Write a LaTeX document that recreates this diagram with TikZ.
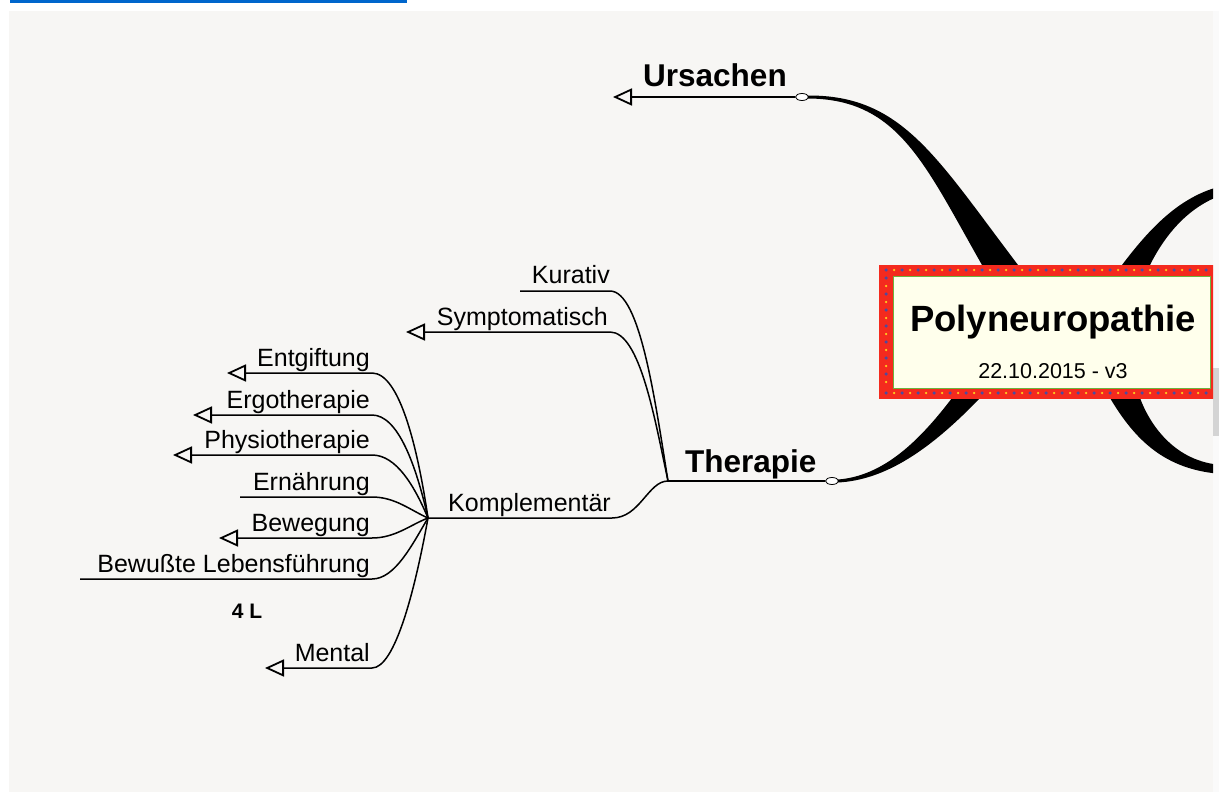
\documentclass[tikz,border=0pt]{standalone}
\usepackage{fontspec}
\setmainfont{Liberation Sans}
\usetikzlibrary{arrows.meta,shapes.geometric}
\definecolor{panelbg}{HTML}{F7F6F4}
\definecolor{barblue}{HTML}{0066CC}
\definecolor{boxred}{HTML}{F42A1E}
\definecolor{boxcream}{HTML}{FFFFEC}
\definecolor{boxgreen}{HTML}{6DB33F}
\definecolor{dotblue}{HTML}{4B4BA0}
\definecolor{dotyellow}{HTML}{FFD21E}
\definecolor{scrollgrey}{HTML}{D4D4D4}
\definecolor{stripbg}{HTML}{FAFAFA}
\begin{document}
\begin{tikzpicture}[x=1pt,y=-1pt,
  limb/.style={fill=black},
  twig/.style={line width=1.5pt},
  mainline/.style={line width=2pt},
  openarrow/.style={-{Triangle[open,length=19pt,width=17pt,line width=1.8pt]}},
  twigtxt/.style={inner sep=0pt, anchor=base east, font=\fontsize{25}{29}\selectfont},
  maintxt/.style={inner sep=0pt, anchor=base west, font=\bfseries\fontsize{31.5}{35}\selectfont},
  knot/.style={ellipse, draw, fill=white, line width=0.8pt, minimum width=13pt, minimum height=7pt, inner sep=0pt},
  bluedots/.style={dotblue, line width=3.5pt, line cap=round, dash pattern=on 0pt off 16pt},
  yellowdots/.style={dotyellow, line width=2.5pt, line cap=round, dash pattern=on 0pt off 16pt, dash phase=8pt},
]
\useasboundingbox (0,0) rectangle (1219,792);
\fill[white] (0,0) rectangle (1219,792);
\fill[barblue] (10,0) rectangle (407,3);
\fill[stripbg] (1213,11) rectangle (1219,792);
\fill[panelbg] (9,11) rectangle (1213,792);
\fill[scrollgrey] (1213,368) rectangle (1219,436);

% knots
\node[knot] (uk) at (802,97) {};
\node[knot] (tk) at (832,481) {};

\begin{scope}
\clip (9,11) rectangle (1213,792);
% thick limbs
\fill[limb] (808,95.5) .. controls (902,95) and (936,157) .. (1018,265) -- (1030,285)
  -- (994,285) -- (982,265) .. controls (924,163) and (898,99) .. (808,98.5) -- cycle;
\fill[limb] (838,479.5) .. controls (884,476) and (920,440) .. (952,398) -- (963,385)
  -- (991,385) -- (980,398) .. controls (931,449) and (886,480) .. (838,482.5) -- cycle;
\fill[limb] (1114,280) -- (1122,265) .. controls (1150,228) and (1180,196) .. (1222,186)
  -- (1222,195) .. controls (1188,207) and (1165,235) .. (1150,265) -- (1142,280) -- cycle;
\fill[limb] (1102,385) -- (1110,398) .. controls (1135,440) and (1165,470) .. (1222,474)
  -- (1222,465) .. controls (1175,462) and (1150,425) .. (1140,398) -- (1132,385) -- cycle;
% central box
\fill[boxred] (879,265) rectangle (1224,399);
\filldraw[fill=boxcream, draw=boxgreen, line width=1pt] (893,276) rectangle (1210,388);
\draw[bluedots] (886,270) -- (1224,270);
\draw[yellowdots] (886,270) -- (1224,270);
\draw[bluedots] (886,393) -- (1224,393);
\draw[yellowdots] (886,393) -- (1224,393);
\draw[bluedots] (886,278) -- (886,390);
\draw[yellowdots] (886,278) -- (886,390);
\end{scope}
\node[inner sep=0pt, anchor=base, font=\bfseries\fontsize{36.5}{40}\selectfont] (title) at (1053,331) {Polyneuropathie};
\node[inner sep=0pt, anchor=base, font=\fontsize{21.5}{24}\selectfont] (date) at (1053,378) {22.10.2015 - v3};

% junctions and ends
\coordinate (J1) at (668,481);
\coordinate (J2) at (428,518);
\coordinate (ursT) at (613,97);
\coordinate (kurR) at (610,291);  \coordinate (kurL) at (520,291);
\coordinate (symR) at (610,332);  \coordinate (symL) at (406,332);
\coordinate (komR) at (612,518);
\coordinate (entR) at (372,373);  \coordinate (entL) at (227,373);
\coordinate (ergR) at (372,415);  \coordinate (ergL) at (193,415);
\coordinate (phyR) at (372,455);  \coordinate (phyL) at (173,455);
\coordinate (ernR) at (372,497);  \coordinate (ernL) at (240,497);
\coordinate (bwgR) at (372,538);  \coordinate (bwgL) at (219,538);
\coordinate (bwlR) at (372,579);  \coordinate (bwlL) at (80,579);
\coordinate (menR) at (372,668);  \coordinate (menL) at (265,668);

% main lines
\draw[mainline, openarrow] (uk.west) -- (ursT);
\draw[mainline] (J1) -- (tk.west);

% therapie branches
\draw[twig] (J1) .. controls (655,400) and (640,291) .. (kurR) -- (kurL);
\draw[twig, openarrow] (J1) .. controls (655,420) and (640,332) .. (symR) -- (symL);
\draw[twig] (J1) .. controls (648,481) and (640,518) .. (komR) -- (J2);

% komplementaer branches
\draw[twig, openarrow] (J2) .. controls (418,450) and (400,373) .. (entR) -- (entL);
\draw[twig, openarrow] (J2) .. controls (416,465) and (398,415) .. (ergR) -- (ergL);
\draw[twig, openarrow] (J2) .. controls (414,485) and (396,455) .. (phyR) -- (phyL);
\draw[twig] (J2) .. controls (410,510) and (395,497) .. (ernR) -- (ernL);
\draw[twig, openarrow] (J2) .. controls (410,525) and (395,538) .. (bwgR) -- (bwgL);
\draw[twig] (J2) .. controls (412,545) and (395,579) .. (bwlR) -- (bwlL);
\draw[twig, openarrow] (J2) .. controls (415,590) and (395,668) .. (menR) -- (menL);

% texts
\node[maintxt] (ursachen) at (643,87) {Ursachen};
\node[maintxt] (therapie) at (685,472) {Therapie};
\node[twigtxt] (kurativ) at (610,283) {Kurativ};
\node[twigtxt] (sympt) at (608,325) {Symptomatisch};
\node[twigtxt] (kompl) at (611,511) {Komplementär};
\node[twigtxt] (entg) at (370,366) {Entgiftung};
\node[twigtxt] (ergo) at (370,408) {Ergotherapie};
\node[twigtxt] (physio) at (370,448) {Physiotherapie};
\node[twigtxt] (ern) at (370,490) {Ernährung};
\node[twigtxt] (bew) at (370,531) {Bewegung};
\node[twigtxt] (bewl) at (370,572) {Bewußte Lebensführung};
\node[inner sep=0pt, anchor=base, font=\bfseries\fontsize{21}{24}\selectfont] (fourL) at (247,618) {4 L};
\node[twigtxt] (mental) at (370,661) {Mental};
\end{tikzpicture}
\end{document}
